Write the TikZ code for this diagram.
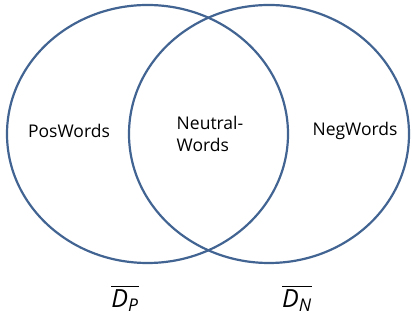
\documentclass[tikz,border=0pt]{standalone}
\usepackage{amsmath}
\usepackage{fontspec}
\setmainfont{Open Sans}
\definecolor{ring}{RGB}{66,100,146}
\begin{document}
\begin{tikzpicture}[x=1pt,y=1pt,
  ringline/.style={draw=ring,line width=2.2pt},
  lbl/.style={font=\fontsize{17.5}{22}\selectfont,inner sep=0pt},
  setname/.style={font=\fontsize{25}{28}\selectfont,inner sep=0pt}]
\useasboundingbox (0,0) rectangle (412,320);
\draw[ringline] (147.5,186) ellipse [x radius=140.5,y radius=129];
\draw[ringline] (269,186) ellipse [x radius=140,y radius=129];
\node[lbl] (pos) at (69,189) {PosWords};
\node[lbl,align=left] (neu) at (210,186) {Neutral-\\Words};
\node[lbl] (neg) at (355,189) {NegWords};
\node[setname] (dp) at (125,22) {$\overline{\textit{D}_{\textit{P}}}$};
\node[setname] (dn) at (297,22) {$\overline{\textit{D}_{\textit{N}}}$};
\end{tikzpicture}
\end{document}
